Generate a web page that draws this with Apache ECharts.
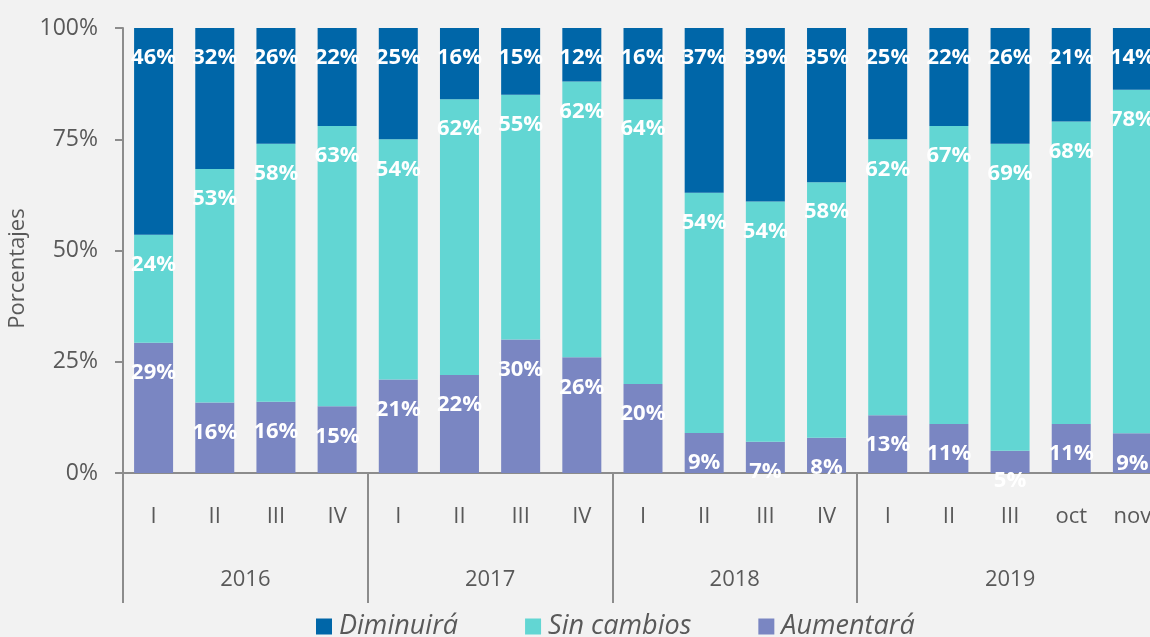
<!DOCTYPE html>
<html>
<head>
<meta charset="utf-8">
<script src="https://cdn.jsdelivr.net/npm/echarts@6/dist/echarts.min.js"></script>
<style>
html,body{margin:0;padding:0;background:#F2F2F2;}
#main{width:1150px;height:637px;}
</style>
</head>
<body>
<div id="main"></div>
<script>
// ---- Data ----
const categories = ['I','II','III','IV','I','II','III','IV','I','II','III','IV','I','II','III','oct','nov'];
const years = ['2016','2017','2018','2019'];
const yearSizes = [4,4,4,5];
const aumentara  = [29,16,16,15,21,22,30,26,20, 9, 7, 8,13,11, 5,11, 9];
const sinCambios = [24,53,58,63,54,62,55,62,64,54,54,58,62,67,69,68,78];
const diminuira  = [46,32,26,22,25,16,15,12,16,37,39,35,25,22,26,21,14];
const yTicks = [0,25,50,75,100];
const seriesNames = ['Diminuirá','Sin cambios','Aumentará'];

// ---- Derived ----
const totals = categories.map((_, i) => aumentara[i] + sinCambios[i] + diminuira[i]);
const norm = arr => arr.map((v, i) => v / totals[i] * 100);
const bounds = [0];
yearSizes.forEach(s => bounds.push(bounds[bounds.length - 1] + s));
const centers = yearSizes.map((s, i) => bounds[i] + s / 2);

const FONT = 'Open Sans';
const GRAY = '#595959';
const AXIS = '#8C8C8C';

const labelOpt = raw => ({
  show: true,
  position: 'insideTop',
  distance: 19,
  color: '#FFFFFF',
  fontFamily: FONT,
  fontWeight: 'bold',
  fontSize: 22,
  formatter: p => raw[p.dataIndex] + '%'
});

const chart = echarts.init(document.getElementById('main'));
chart.setOption({
  backgroundColor: '#F2F2F2',
  animation: false,
  grid: { left: 123, top: 28, bottom: 164, width: 1040, containLabel: false, outerBoundsMode: 'none' },
  legend: {
    data: seriesNames,
    left: 311, top: 608,
    icon: 'rect', itemWidth: 16, itemHeight: 16, itemGap: 67,
    textStyle: { fontFamily: FONT, fontSize: 27, fontStyle: 'italic', color: GRAY, padding: [0,0,0,2] }
  },
  xAxis: [
    {
      type: 'category', data: categories, position: 'bottom',
      axisLine: { show: true, lineStyle: { color: AXIS, width: 2 } },
      axisTick: { show: false },
      axisLabel: { interval: 0, margin: 33, fontFamily: FONT, fontSize: 22, color: GRAY }
    },
    {
      type: 'value', min: 0, max: categories.length, position: 'bottom',
      axisLine: { show: false },
      splitLine: { show: false },
      axisTick: { show: true, customValues: bounds, length: 130, inside: false, lineStyle: { color: AXIS, width: 2 } },
      axisLabel: {
        show: true, customValues: centers, margin: 96,
        fontFamily: FONT, fontSize: 22, color: GRAY,
        formatter: v => { const i = centers.indexOf(v); return i >= 0 ? years[i] : ''; }
      }
    }
  ],
  yAxis: {
    type: 'value', min: 0, max: 100, interval: 25,
    name: 'Porcentajes', nameLocation: 'middle', nameGap: 90, nameRotate: 90,
    nameTextStyle: { fontFamily: FONT, fontSize: 22, color: GRAY, padding: [0, 36, 0, 0] },
    axisLine: { show: true, lineStyle: { color: AXIS, width: 2 } },
    axisTick: { show: true, length: 8, inside: false, lineStyle: { color: AXIS, width: 2 } },
    splitLine: { show: false },
    axisLabel: { margin: 25, fontFamily: FONT, fontSize: 23, color: GRAY,
      customValues: yTicks, formatter: v => v + '%' }
  },
  series: [
    { name: 'Aumentará', type: 'bar', stack: 'total', barWidth: 39, data: norm(aumentara),
      itemStyle: { color: '#7A86C2' }, label: labelOpt(aumentara) },
    { name: 'Sin cambios', type: 'bar', stack: 'total', barWidth: 39, data: norm(sinCambios),
      itemStyle: { color: '#62D6D3' }, label: labelOpt(sinCambios) },
    { name: 'Diminuirá', type: 'bar', stack: 'total', barWidth: 39, data: norm(diminuira),
      itemStyle: { color: '#0066A8' }, label: labelOpt(diminuira) }
  ]
});
</script>
</body>
</html>
